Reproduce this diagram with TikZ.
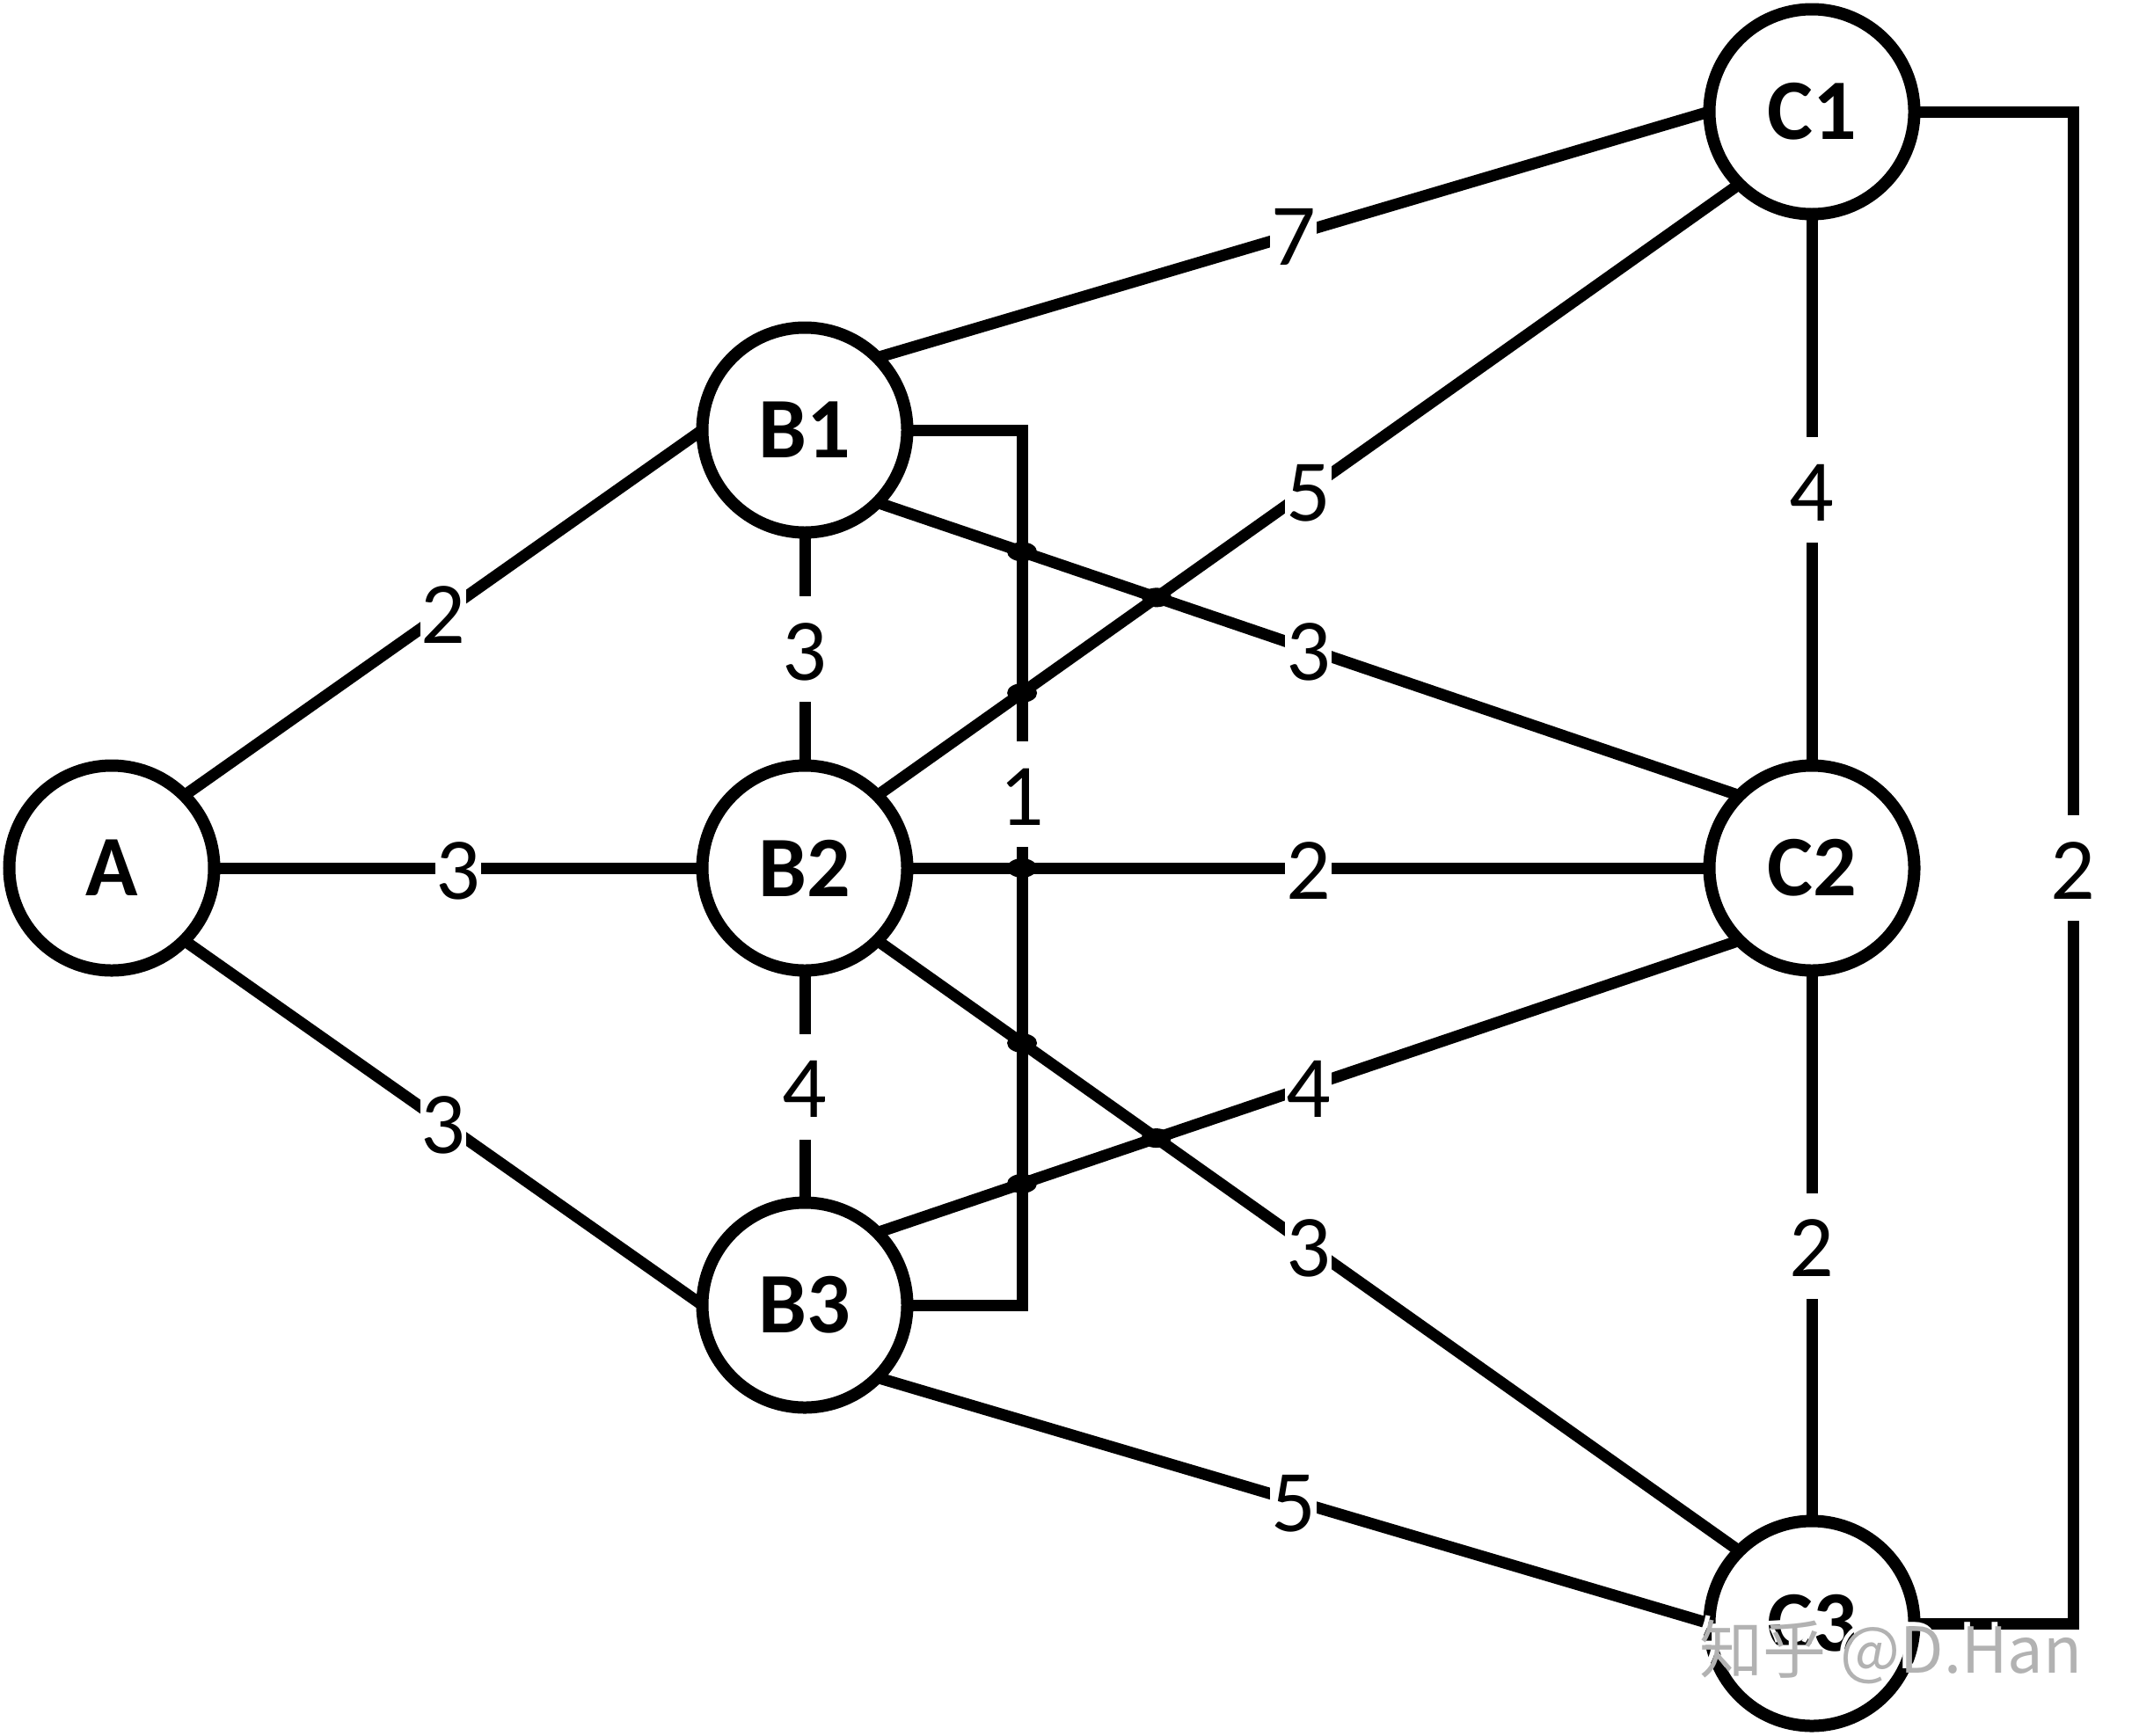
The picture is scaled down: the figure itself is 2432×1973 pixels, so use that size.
\documentclass[tikz,border=0pt]{standalone}
\usepackage{fontspec}
\setmainfont{Carlito}
\newfontfamily\cjkfont{Noto Sans CJK SC}
\begin{document}
\begin{tikzpicture}[x=1pt,y=-1pt,
  vert/.style={circle, draw, fill=white, line width=14pt, minimum size=233pt, inner sep=0pt, outer sep=0pt,
    font=\fontsize{98}{100}\selectfont\bfseries},
  edge/.style={line width=13pt},
  wlabel/.style={fill=white, inner xsep=1pt, inner ysep=25pt, text height=70pt, text depth=0pt,
    font=\fontsize{100}{110}\selectfont},
  jump/.style={fill=black},
  wmark/.style={anchor=base west, font=\cjkfont\fontsize{72}{78}\selectfont}
]
\useasboundingbox (0,0) rectangle (2432,1973);

% vertices
\node[vert] (A)  at (127,987)  {A};
\node[vert] (B1) at (915,489)  {B1};
\node[vert] (B2) at (915,987)  {B2};
\node[vert] (B3) at (915,1484) {B3};
\node[vert] (C1) at (2060,127) {C1};
\node[vert] (C2) at (2060,987) {C2};
\node[vert] (C3) at (2060,1846) {C3};

% bracket corners
\coordinate (k1) at (1162,489);
\coordinate (k2) at (1162,1484);
\coordinate (k3) at (2357,127);
\coordinate (k4) at (2357,1846);

% edges
\draw[edge] (A.45)  -- (B1.west) node[wlabel, midway] (lab1) {2};
\draw[edge] (A.east) -- (B2.west) node[wlabel, midway] (lab2) {3};
\draw[edge] (A.315) -- (B3.west) node[wlabel, midway] (lab3) {3};
\draw[edge] (B1.45) -- (C1.west) node[wlabel, midway] (lab4) {7};
\draw[edge] (B1.315) -- (C2.135) node[wlabel, midway] (lab5) {3};
\draw[edge] (B1.south) -- (B2.north) node[wlabel, midway] (lab6) {3};
\draw[edge] (B2.45) -- (C1.225) node[wlabel, midway] (lab7) {5};
\draw[edge] (B2.east) -- (C2.west) node[wlabel, midway] (lab8) {2};
\draw[edge] (B2.315) -- (C3.135) node[wlabel, midway] (lab9) {3};
\draw[edge] (B2.south) -- (B3.north) node[wlabel, midway] (lab10) {4};
\draw[edge] (B3.45) -- (C2.225) node[wlabel, midway] (lab11) {4};
\draw[edge] (B3.315) -- (C3.west) node[wlabel, midway] (lab12) {5};
\draw[edge] (C1.south) -- (C2.north) node[wlabel, midway] (lab13) {4};
\draw[edge] (C2.south) -- (C3.north) node[wlabel, midway] (lab14) {2};

% brackets
\draw[edge] (B1.east) -- (k1) -- (k2) -- (B3.east);
\draw[edge] (C1.east) -- (k3) -- (k4) -- (C3.east);

% line jumps
\fill[jump] (intersection of k1--k2 and B1.315--C2.135) ellipse [x radius=17, y radius=11];
\fill[jump] (intersection of k1--k2 and B2.45--C1.225) ellipse [x radius=17, y radius=11];
\fill[jump] (intersection of k1--k2 and B2.east--C2.west) ellipse [x radius=17, y radius=11];
\fill[jump] (intersection of k1--k2 and B2.315--C3.135) ellipse [x radius=17, y radius=11];
\fill[jump] (intersection of k1--k2 and B3.45--C2.225) ellipse [x radius=17, y radius=11];
\fill[jump] (intersection of B1.315--C2.135 and B2.45--C1.225) ellipse [x radius=17, y radius=11];
\fill[jump] (intersection of B2.315--C3.135 and B3.45--C2.225) ellipse [x radius=17, y radius=11];

% bracket labels
\node[wlabel] (lab15) at (1162,903) {1};
\node[wlabel] (lab16) at (2357,987) {2};

% watermark
\node[wmark, text=white] (wm0) at (1925,1897) {知乎 @D.Han};
\node[wmark, text=black!30] (wm) at (1929,1902) {知乎 @D.Han};
\end{tikzpicture}
\end{document}
